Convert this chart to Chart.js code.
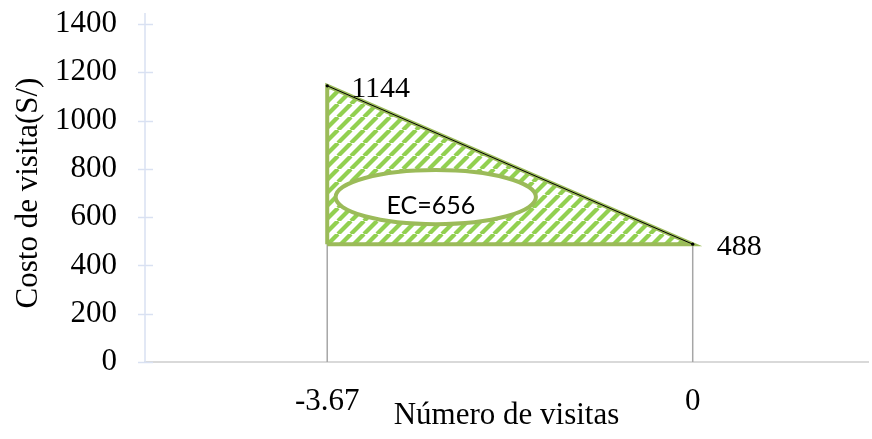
<!DOCTYPE html>
<html>
<head>
<meta charset="utf-8">
<script src="https://cdn.jsdelivr.net/npm/chart.js@4.4.1/dist/chart.umd.min.js"></script>
<style>
  html, body { margin: 0; padding: 0; background: #ffffff; }
  #wrap { width: 872px; height: 439px; position: relative; }
</style>
</head>
<body>
<div id="wrap"><canvas id="chart"></canvas></div>
<script>
// Visit-count categories on the x axis and the cost at each one
const categories = ['-3.67', '0'];
const costValues = [1144, 488];

// Surplus area annotation
const ecLabel = 'EC=656';
const ecCenter = { x: 0.297, y: 683 };
const ecRadius = { x: 0.274, y: 112 };

// Axis range and tick spacing
const yMin = 0, yMax = 1400, yStep = 200;

const SERIF = '"Liberation Serif", "Times New Roman", serif';
const OUTLINE_GREEN = '#9BBB59';
const HATCH_GREEN = '#92D050';
const baseValue = Math.min(...costValues);

// diagonal "/" hatch used to fill the triangle
function makeHatch() {
  const s = 13;
  const c = document.createElement('canvas');
  c.width = s; c.height = s;
  const g = c.getContext('2d');
  g.strokeStyle = HATCH_GREEN;
  g.lineWidth = 4.3;
  for (const k of [-s, 0, s]) {
    g.beginPath();
    g.moveTo(k, s);
    g.lineTo(k + s, 0);
    g.stroke();
  }
  return g.createPattern(c, 'repeat');
}

const points = costValues.map((v, i) => ({ x: i, y: v }));
const outline = [
  { x: 0, y: baseValue },
  { x: 0, y: costValues[0] },
  { x: 1, y: costValues[1] },
  { x: 0, y: baseValue }
];

// drop lines, y-axis line with cross ticks, ellipse and value labels
const decorations = {
  id: 'decorations',
  beforeDatasetsDraw(chart) {
    const { ctx, scales: { x, y } } = chart;
    ctx.save();
    // y axis line and its crossing tick marks
    ctx.strokeStyle = '#D9E1F2';
    ctx.lineWidth = 1.5;
    ctx.beginPath();
    ctx.moveTo(x.left, y.top - 11);
    ctx.lineTo(x.left, y.bottom);
    ctx.stroke();
    y.ticks.forEach(t => {
      const py = Math.round(y.getPixelForValue(t.value)) + 0.5;
      ctx.beginPath();
      ctx.moveTo(x.left - 7, py);
      ctx.lineTo(x.left + 8, py);
      ctx.stroke();
    });
    // drop lines from each point to the axis
    ctx.strokeStyle = '#A6A6A6';
    ctx.lineWidth = 1.5;
    points.forEach(p => {
      const px = x.getPixelForValue(p.x);
      ctx.beginPath();
      ctx.moveTo(px, y.getPixelForValue(p.y));
      ctx.lineTo(px, y.getPixelForValue(yMin));
      ctx.stroke();
    });
    ctx.restore();
  },
  afterDatasetsDraw(chart) {
    const { ctx, scales: { x, y } } = chart;
    ctx.save();
    // ellipse with the surplus label
    const cx = x.getPixelForValue(ecCenter.x);
    const cy = y.getPixelForValue(ecCenter.y);
    const rx = x.getPixelForValue(ecCenter.x + ecRadius.x) - cx;
    const ry = cy - y.getPixelForValue(ecCenter.y + ecRadius.y);
    ctx.beginPath();
    ctx.ellipse(cx, cy, rx, ry, 0, 0, Math.PI * 2);
    ctx.fillStyle = '#ffffff';
    ctx.fill();
    ctx.strokeStyle = OUTLINE_GREEN;
    ctx.lineWidth = 4;
    ctx.stroke();
    ctx.fillStyle = '#000000';
    ctx.font = '25px Lato, "Open Sans", sans-serif';
    ctx.textAlign = 'center';
    ctx.textBaseline = 'middle';
    ctx.fillText(ecLabel, cx - 5, cy + 9);
    // value labels to the right of each point
    ctx.font = '30px ' + SERIF;
    ctx.textAlign = 'left';
    points.forEach(p => {
      const px = x.getPixelForValue(p.x);
      const py = y.getPixelForValue(p.y);
      ctx.fillText(String(p.y), px + 24, py + 3);
    });
    ctx.restore();
  }
};

new Chart(document.getElementById('chart'), {
  type: 'line',
  data: {
    datasets: [
      {
        label: 'Costo',
        data: points,
        borderColor: '#000000',
        borderWidth: 1,
        pointRadius: 1.6,
        pointBackgroundColor: '#000000',
        pointBorderWidth: 0,
        fill: false,
        order: 0
      },
      {
        label: 'Contorno',
        data: outline,
        borderColor: OUTLINE_GREEN,
        borderWidth: 4,
        borderJoinStyle: 'miter',
        pointRadius: 0,
        fill: false,
        order: 1
      },
      {
        label: 'EC',
        data: points,
        borderWidth: 0,
        pointRadius: 0,
        backgroundColor: makeHatch(),
        fill: { value: baseValue },
        order: 2
      }
    ]
  },
  options: {
    responsive: true,
    maintainAspectRatio: false,
    animation: false,
    layout: { padding: { top: 24, right: 1, bottom: 0, left: 0 } },
    plugins: { legend: { display: false }, tooltip: { enabled: false } },
    scales: {
      x: {
        type: 'linear',
        min: -0.4986,
        max: 1.4796,
        afterBuildTicks: s => { s.ticks = categories.map((_, i) => ({ value: i })); },
        afterFit: s => { s.height = 77; },
        grid: { display: false, drawTicks: false },
        border: { display: true, color: '#D9D9D9', width: 2 },
        ticks: {
          padding: 21,
          color: '#000000',
          font: { family: SERIF, size: 31 },
          callback: v => categories[v] ?? ''
        },
        title: {
          display: true,
          text: 'Número de visitas',
          color: '#000000',
          font: { family: SERIF, size: 31 },
          padding: { top: 0, bottom: 5 }
        }
      },
      y: {
        min: yMin,
        max: yMax,
        afterFit: s => { s.width = 145; },
        grid: {
          display: true,
          drawOnChartArea: false,
          drawTicks: true,
          tickLength: 28,
          tickColor: 'rgba(0,0,0,0)'
        },
        border: { display: false },
        ticks: {
          stepSize: yStep,
          padding: 0,
          color: '#000000',
          font: { family: SERIF, size: 31 },
          callback: v => String(v)
        },
        title: {
          display: true,
          text: 'Costo de visita(S/)',
          color: '#000000',
          font: { family: SERIF, size: 31 },
          padding: { top: 10, bottom: 0 }
        }
      }
    }
  },
  plugins: [decorations]
});
</script>
</body>
</html>
